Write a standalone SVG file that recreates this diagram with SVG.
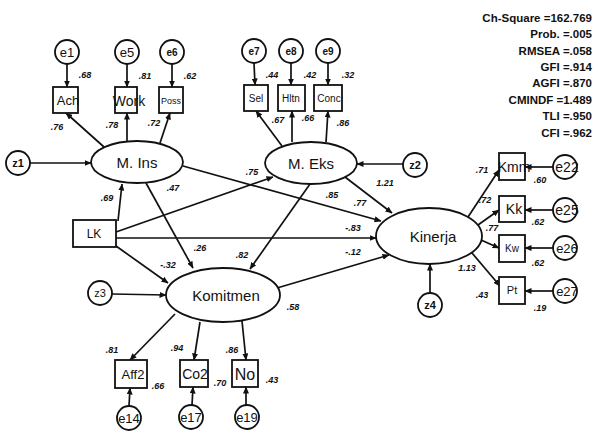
<svg xmlns="http://www.w3.org/2000/svg" width="594" height="431" viewBox="0 0 594 431">
<style>
.c{fill:#fff;stroke:#111;stroke-width:1.8}
.l{stroke:#111;stroke-width:1.7;fill:none;marker-end:url(#ah)}
.t{font-family:"Liberation Sans",Arial,sans-serif;fill:#111;text-anchor:middle}
.lb{font-family:"Liberation Sans",Arial,sans-serif;fill:#111;font-size:9px;font-weight:bold;text-anchor:middle;font-style:italic}
.st{font-family:"Liberation Sans",Arial,sans-serif;fill:#111;font-size:11.5px;font-weight:bold;text-anchor:end}
</style>
<defs>
<marker id="ah" markerWidth="7" markerHeight="6" refX="6.5" refY="3" orient="auto" markerUnits="userSpaceOnUse">
<path d="M0,0 L7,3 L0,6 z" fill="#111"/>
</marker>
</defs>
<rect width="594" height="431" fill="#fff"/>

<g id="connectors">
<line class="l" x1="67" y1="64" x2="67" y2="87"/>
<line class="l" x1="127" y1="64" x2="127" y2="87"/>
<line class="l" x1="172" y1="64" x2="172" y2="87"/>
<line class="l" x1="104" y1="147" x2="66" y2="113"/>
<line class="l" x1="127" y1="141" x2="127" y2="113"/>
<line class="l" x1="160" y1="143" x2="170" y2="113"/>
<line class="l" x1="254" y1="63" x2="255" y2="85"/>
<line class="l" x1="291" y1="63" x2="291" y2="85"/>
<line class="l" x1="328" y1="63" x2="328" y2="85"/>
<line class="l" x1="282" y1="146" x2="256" y2="111"/>
<line class="l" x1="292" y1="142" x2="292" y2="111"/>
<line class="l" x1="326" y1="142" x2="328" y2="111"/>
<line class="l" x1="30" y1="163" x2="91" y2="163"/>
<line class="l" x1="403" y1="164" x2="357" y2="164"/>
<line class="l" x1="112" y1="294" x2="166" y2="295"/>
<line class="l" x1="430" y1="293" x2="430" y2="264"/>
<line class="l" x1="118" y1="221" x2="122" y2="184"/>
<line class="l" x1="116" y1="232" x2="273" y2="177"/>
<line class="l" x1="116" y1="238" x2="376" y2="238"/>
<line class="l" x1="116" y1="246" x2="168" y2="283"/>
<line class="l" x1="146" y1="183" x2="193" y2="268"/>
<line class="l" x1="183" y1="166" x2="381" y2="221"/>
<line class="l" x1="310" y1="184" x2="250" y2="269"/>
<line class="l" x1="345" y1="177" x2="392" y2="213"/>
<line class="l" x1="277" y1="288" x2="389" y2="255"/>
<line class="l" x1="175" y1="314" x2="130" y2="360"/>
<line class="l" x1="200" y1="322" x2="194" y2="360"/>
<line class="l" x1="242" y1="321" x2="246" y2="360"/>
<line class="l" x1="129" y1="406" x2="130" y2="388"/>
<line class="l" x1="192" y1="405" x2="193" y2="387"/>
<line class="l" x1="246" y1="405" x2="246" y2="387"/>
<line class="l" x1="468" y1="217" x2="499" y2="170"/>
<line class="l" x1="478" y1="225" x2="499" y2="210"/>
<line class="l" x1="481" y1="240" x2="499" y2="248"/>
<line class="l" x1="472" y1="253" x2="500" y2="286"/>
<line class="l" x1="553" y1="167" x2="525" y2="167"/>
<line class="l" x1="553" y1="210" x2="525" y2="210"/>
<line class="l" x1="553" y1="248" x2="525" y2="248"/>
<line class="l" x1="553" y1="291" x2="525" y2="291"/>
</g>

<g id="e1"><circle class="c" cx="67" cy="52" r="12"/><text class="t" x="67" y="57" font-size="13">e1</text></g>
<g id="e5"><circle class="c" cx="127" cy="52" r="12"/><text class="t" x="127" y="57" font-size="13">e5</text></g>
<g id="e6"><circle class="c" cx="172" cy="52" r="12"/><text class="t" x="172" y="56" font-size="10" font-weight="bold">e6</text></g>
<g id="Ach"><rect class="c" x="53" y="87" width="25" height="26"/><text class="t" x="68" y="105" font-size="13">Ach</text></g>
<g id="Work"><rect class="c" x="115" y="87" width="22" height="26"/><text class="t" x="129" y="106" font-size="14">Work</text></g>
<g id="Poss"><rect class="c" x="159" y="87" width="24" height="26"/><text class="t" x="171" y="104" font-size="9">Poss</text></g>

<g id="e7"><circle class="c" cx="254" cy="51" r="12"/><text class="t" x="254" y="55" font-size="10" font-weight="bold">e7</text></g>
<g id="e8"><circle class="c" cx="291" cy="51" r="12"/><text class="t" x="291" y="55" font-size="10" font-weight="bold">e8</text></g>
<g id="e9"><circle class="c" cx="328" cy="51" r="12"/><text class="t" x="328" y="55" font-size="10" font-weight="bold">e9</text></g>
<g id="Sel"><rect class="c" x="244" y="85" width="24" height="26"/><text class="t" x="256" y="102" font-size="10">Sel</text></g>
<g id="Hltn"><rect class="c" x="278" y="85" width="27" height="26"/><text class="t" x="291" y="102" font-size="10">Hltn</text></g>
<g id="Conc"><rect class="c" x="314" y="85" width="28" height="26"/><text class="t" x="329" y="102" font-size="10">Conc</text></g>

<g id="MIns"><ellipse class="c" cx="137" cy="162" rx="46" ry="21"/><text class="t" x="137" y="168" font-size="15">M. Ins</text></g>
<g id="MEks"><ellipse class="c" cx="311" cy="163" rx="46" ry="21"/><text class="t" x="311" y="169" font-size="15">M. Eks</text></g>
<g id="Kinerja"><ellipse class="c" cx="429" cy="236" rx="53" ry="28"/><text class="t" x="433" y="242" font-size="15">Kinerja</text></g>
<g id="Komitmen"><ellipse class="c" cx="223" cy="295" rx="57" ry="27"/><text class="t" x="226" y="301" font-size="15">Komitmen</text></g>

<g id="z1"><circle class="c" cx="18" cy="163" r="12"/><text class="t" x="18" y="167" font-size="11" font-weight="bold">z1</text></g>
<g id="z2"><circle class="c" cx="415" cy="165" r="12"/><text class="t" x="415" y="169" font-size="11" font-weight="bold">z2</text></g>
<g id="z3"><circle class="c" cx="100" cy="293" r="12"/><text class="t" x="100" y="297" font-size="11">z3</text></g>
<g id="z4"><circle class="c" cx="430" cy="305" r="12"/><text class="t" x="430" y="309" font-size="11" font-weight="bold">z4</text></g>

<g id="LK"><rect class="c" x="73" y="220" width="43" height="27"/><text class="t" x="94" y="238" font-size="12">LK</text></g>

<g id="Aff2"><rect class="c" x="115" y="360" width="32" height="28"/><text class="t" x="133" y="379" font-size="13">Aff2</text></g>
<g id="Co2"><rect class="c" x="180" y="360" width="28" height="27"/><text class="t" x="195" y="379" font-size="14">Co2</text></g>
<g id="No"><rect class="c" x="232" y="360" width="26" height="27"/><text class="t" x="245" y="380" font-size="16">No</text></g>
<g id="e14"><circle class="c" cx="129" cy="418" r="12"/><text class="t" x="129" y="423" font-size="13">e14</text></g>
<g id="e17"><circle class="c" cx="191" cy="417" r="12"/><text class="t" x="191" y="422" font-size="13">e17</text></g>
<g id="e19"><circle class="c" cx="247" cy="417" r="12"/><text class="t" x="247" y="422" font-size="13">e19</text></g>

<g id="Kmm"><rect class="c" x="499" y="153" width="26" height="27"/><text class="t" x="514" y="172" font-size="14">Kmm</text></g>
<g id="Kk"><rect class="c" x="499" y="196" width="26" height="26"/><text class="t" x="514" y="214" font-size="14">Kk</text></g>
<g id="Kw"><rect class="c" x="499" y="235" width="26" height="27"/><text class="t" x="512" y="252" font-size="10">Kw</text></g>
<g id="Pt"><rect class="c" x="499" y="277" width="26" height="27"/><text class="t" x="512" y="294" font-size="11">Pt</text></g>
<g id="e22"><circle class="c" cx="565" cy="167" r="12"/><text class="t" x="567" y="172" font-size="14">e22</text></g>
<g id="e25"><circle class="c" cx="565" cy="210" r="12"/><text class="t" x="567" y="215" font-size="14">e25</text></g>
<g id="e26"><circle class="c" cx="565" cy="248" r="12"/><text class="t" x="567" y="253" font-size="13">e26</text></g>
<g id="e27"><circle class="c" cx="565" cy="291" r="12"/><text class="t" x="567" y="296" font-size="13">e27</text></g>

<g id="labels">
<text class="lb" x="85" y="78">.68</text>
<text class="lb" x="145" y="79">.81</text>
<text class="lb" x="190" y="79">.62</text>
<text class="lb" x="57" y="130">.76</text>
<text class="lb" x="112" y="128">.78</text>
<text class="lb" x="154" y="126">.72</text>
<text class="lb" x="272" y="78">.44</text>
<text class="lb" x="310" y="78">.42</text>
<text class="lb" x="348" y="78">.32</text>
<text class="lb" x="278" y="123">.67</text>
<text class="lb" x="308" y="121">.66</text>
<text class="lb" x="343" y="126">.86</text>
<text class="lb" x="107" y="201">.69</text>
<text class="lb" x="173" y="191">.47</text>
<text class="lb" x="252" y="175">.75</text>
<text class="lb" x="332" y="198">.85</text>
<text class="lb" x="385" y="186">1.21</text>
<text class="lb" x="360" y="206">.77</text>
<text class="lb" x="353" y="231">-.83</text>
<text class="lb" x="353" y="255">-.12</text>
<text class="lb" x="200" y="251">.26</text>
<text class="lb" x="168" y="268">-.32</text>
<text class="lb" x="242" y="258">.82</text>
<text class="lb" x="293" y="310">.58</text>
<text class="lb" x="482" y="173">.71</text>
<text class="lb" x="540" y="183">.60</text>
<text class="lb" x="485" y="203">.72</text>
<text class="lb" x="538" y="225">.62</text>
<text class="lb" x="492" y="231">.77</text>
<text class="lb" x="538" y="266">.62</text>
<text class="lb" x="467" y="271">1.13</text>
<text class="lb" x="482" y="298">.43</text>
<text class="lb" x="540" y="311">.19</text>
<text class="lb" x="112" y="353">.81</text>
<text class="lb" x="177" y="351">.94</text>
<text class="lb" x="232" y="353">.86</text>
<text class="lb" x="158" y="389">.66</text>
<text class="lb" x="220" y="386">.70</text>
<text class="lb" x="272" y="383">.43</text>
</g>

<g id="fit">
<text class="st" x="592" y="22">Ch-Square =162.769</text>
<text class="st" x="592" y="38">Prob. =.005</text>
<text class="st" x="592" y="55">RMSEA =.058</text>
<text class="st" x="592" y="71">GFI =.914</text>
<text class="st" x="592" y="87">AGFI =.870</text>
<text class="st" x="592" y="104">CMINDF =1.489</text>
<text class="st" x="592" y="120">TLI =.950</text>
<text class="st" x="592" y="137">CFI =.962</text>
</g>
</svg>
